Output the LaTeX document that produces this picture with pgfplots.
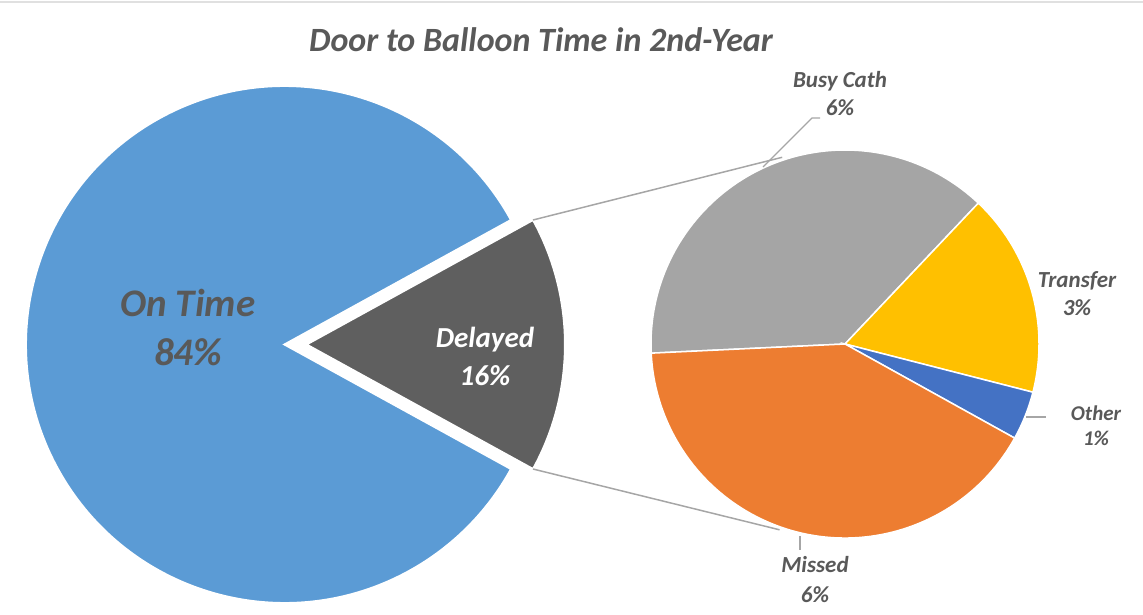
\documentclass[border=0pt]{standalone}
\usepackage{pgfplots}
\usepackage{pgfplotstable}
\pgfplotsset{compat=1.18}
\usetikzlibrary{calc}
\usepackage{fontspec}
\setmainfont{Carlito}
\definecolor{ontime}{HTML}{5B9BD5}
\definecolor{delayed}{HTML}{5F5F5F}
\definecolor{busy}{HTML}{A5A5A5}
\definecolor{transfer}{HTML}{FFC000}
\definecolor{other}{HTML}{4472C4}
\definecolor{missed}{HTML}{ED7D31}
\definecolor{txt}{HTML}{595959}
\definecolor{conn}{HTML}{A6A6A6}

\pgfplotstableread{
label value
OnTime 84
Delayed 16
}\maindata
\pgfplotstableread{
label value
BusyCath 6.05
Transfer 2.71
Other 0.65
Missed 6.59
}\subdata

\begin{document}
\begin{tikzpicture}
% ---- angles from the data ----
\pgfplotstablegetelem{0}{value}\of\maindata \let\vOn\pgfplotsretval
\pgfplotstablegetelem{1}{value}\of\maindata \let\vDel\pgfplotsretval
\pgfmathsetmacro{\half}{\vDel/(\vOn+\vDel)*180}
\pgfmathsetmacro{\onA}{\half}
\pgfmathsetmacro{\onB}{360-\half}
\pgfplotstablegetelem{0}{value}\of\subdata \let\sA\pgfplotsretval
\pgfplotstablegetelem{1}{value}\of\subdata \let\sB\pgfplotsretval
\pgfplotstablegetelem{2}{value}\of\subdata \let\sC\pgfplotsretval
\pgfplotstablegetelem{3}{value}\of\subdata \let\sD\pgfplotsretval
\pgfmathsetmacro{\tot}{\sA+\sB+\sC+\sD}
\pgfmathsetmacro{\aZ}{182.7}
\pgfmathsetmacro{\aA}{\aZ-\sA/\tot*360}
\pgfmathsetmacro{\aB}{\aA-\sB/\tot*360}
\pgfmathsetmacro{\aC}{\aB-\sC/\tot*360}
\pgfmathsetmacro{\aD}{\aC-\sD/\tot*360}
\def\R{258.5}
\def\r{194}
\begin{axis}[
  scale only axis, width=1143pt, height=614pt,
  xmin=0, xmax=1143, ymin=0, ymax=614,
  hide axis, clip=false,
]
\path (axis cs:0,0) rectangle (axis cs:1143,614);
\draw[overlay, color=black!12, line width=2pt] (axis cs:0,612) -- (axis cs:1143,612);
% main pie
\fill[overlay, ontime, draw=white, line width=2pt] (axis cs:284.5,269.5) -- ++(\onA:\R pt) arc[start angle=\onA, end angle=\onB, radius=\R pt] -- cycle;
\fill[overlay, delayed, draw=white, line width=2pt] (axis cs:306.5,269.5) -- ++(-\half:\R pt) arc[start angle=-\half, end angle=\half, radius=\R pt] -- cycle;
% secondary pie
\fill[overlay, busy, draw=white, line width=1.5pt] (axis cs:845,270) -- ++(\aZ:\r pt) arc[start angle=\aZ, end angle=\aA, radius=\r pt] -- cycle;
\fill[overlay, transfer, draw=white, line width=1.5pt] (axis cs:845,270) -- ++(\aA:\r pt) arc[start angle=\aA, end angle=\aB, radius=\r pt] -- cycle;
\fill[overlay, other, draw=white, line width=1.5pt] (axis cs:845,270) -- ++(\aB:\r pt) arc[start angle=\aB, end angle=\aC, radius=\r pt] -- cycle;
\fill[overlay, missed, draw=white, line width=1.5pt] (axis cs:845,270) -- ++(\aC:\r pt) arc[start angle=\aC, end angle=\aD, radius=\r pt] -- cycle;
% connectors
\draw[overlay, conn, line width=1.5pt] (axis cs:306.5,269.5) ++(\half:\R pt) -- ($(axis cs:845,270)+(108.6:197pt)$);
\draw[overlay, conn, line width=1.5pt] (axis cs:306.5,269.5) ++(-\half:\R pt) -- ($(axis cs:845,270)+(-109.4:197pt)$);
% leader lines
\draw[overlay, conn, line width=1.2pt] (axis cs:820,496) -- (axis cs:812,496) -- (axis cs:763,447);
\draw[overlay, conn, line width=1.2pt] (axis cs:800,78) -- (axis cs:800,64);
\draw[overlay, conn, line width=1.2pt] (axis cs:1026,197) -- (axis cs:1046,197);
% labels
\node[text=txt, font=\fontsize{34}{38}\selectfont\bfseries\itshape] at (axis cs:541,574) {Door to Balloon Time in 2nd-Year};
\node[text=txt, align=center, font=\fontsize{39}{49}\selectfont\bfseries\itshape] at (axis cs:188,286.5) {On Time\\84\%};
\node[text=white, align=center, font=\fontsize{29}{38}\selectfont\bfseries\itshape] at (axis cs:485,258) {Delayed\\16\%};
\node[text=txt, align=center, font=\fontsize{23}{28}\selectfont\bfseries\itshape] at (axis cs:840,520) {Busy Cath\\6\%};
\node[text=txt, align=center, font=\fontsize{23}{28}\selectfont\bfseries\itshape] at (axis cs:1077,320) {Transfer\\3\%};
\node[text=txt, align=center, font=\fontsize{21}{25}\selectfont\bfseries\itshape] at (axis cs:1096,188.5) {Other\\1\%};
\node[text=txt, align=center, font=\fontsize{23}{30}\selectfont\bfseries\itshape] at (axis cs:815,34) {Missed\\6\%};
\end{axis}
\end{tikzpicture}
\end{document}
